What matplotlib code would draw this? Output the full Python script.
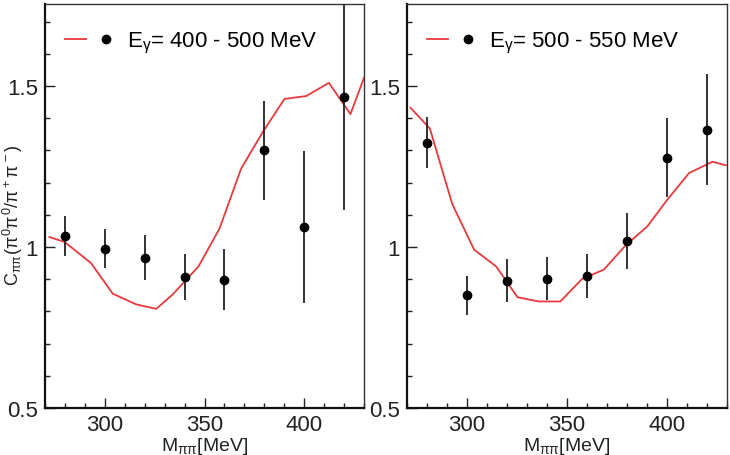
import matplotlib
matplotlib.use('Agg')
import matplotlib.pyplot as plt
from matplotlib.ticker import MultipleLocator, FixedLocator, FixedFormatter
from matplotlib.lines import Line2D
from matplotlib.legend_handler import HandlerTuple

plt.rcParams['font.family'] = ['Liberation Sans', 'DejaVu Sans']
plt.rcParams['mathtext.fontset'] = 'custom'
plt.rcParams['mathtext.rm'] = 'Liberation Sans'
plt.rcParams['mathtext.it'] = 'Liberation Sans'

# Datos: panel izquierdo (E_gamma = 400 - 500 MeV)
m_datos = [280, 300, 320, 340, 360, 380, 400, 420]
c_izq = [1.034, 0.995, 0.967, 0.907, 0.899, 1.300, 1.062, 1.465]
err_izq = [0.062, 0.061, 0.070, 0.072, 0.094, 0.154, 0.237, 0.350]
m_teo_izq = [272.2, 279.8, 293.1, 304.0, 315.7, 325.8, 334.1, 347.0,
             357.5, 368.4, 379.3, 390.1, 401.0, 412.4, 423.2, 430.0]
c_teo_izq = [1.031, 1.016, 0.950, 0.855, 0.822, 0.808, 0.853, 0.940,
             1.057, 1.244, 1.358, 1.460, 1.469, 1.510, 1.413, 1.526]

# Datos: panel derecho (E_gamma = 500 - 550 MeV)
c_der = [1.324, 0.850, 0.896, 0.901, 0.909, 1.018, 1.278, 1.365]
err_der = [0.080, 0.060, 0.067, 0.067, 0.068, 0.087, 0.124, 0.171]
m_teo_der = [271.9, 281.6, 292.8, 303.7, 314.7, 325.4, 336.0, 346.8,
             357.7, 368.6, 379.4, 390.3, 400.3, 411.2, 422.9, 429.6]
c_teo_der = [1.433, 1.368, 1.133, 0.992, 0.940, 0.844, 0.831, 0.831,
             0.901, 0.930, 1.005, 1.064, 1.147, 1.230, 1.265, 1.254]

etiquetas = ['E$_{\\gamma}$= 400 - 500 MeV', 'E$_{\\gamma}$= 500 - 550 MeV']

ROJO = '#e8393c'

fig = plt.figure(figsize=(7.3, 4.56), dpi=100)
ax1 = fig.add_axes([45 / 730, 47 / 456, 319 / 730, 404 / 456])
ax2 = fig.add_axes([406.7 / 730, 47 / 456, 320 / 730, 404 / 456])

paneles = [(ax1, c_izq, err_izq, m_teo_izq, c_teo_izq, etiquetas[0]),
           (ax2, c_der, err_der, m_teo_der, c_teo_der, etiquetas[1])]

for ax, c, err, mt, ct, etiqueta in paneles:
    linea, = ax.plot(mt, ct, color=ROJO, linewidth=1.3)
    ax.errorbar(m_datos, c, yerr=err, fmt='o', color='black', ecolor='#222222',
                elinewidth=1.3, markersize=6, capsize=0)
    ax.set_xlim(270, 430)
    ax.set_ylim(0.5, 1.755)
    ax.xaxis.set_major_locator(FixedLocator([300, 350, 400]))
    ax.xaxis.set_minor_locator(MultipleLocator(10))
    ax.yaxis.set_major_locator(FixedLocator([0.5, 1.0, 1.5]))
    ax.yaxis.set_major_formatter(FixedFormatter(['0.5', '1', '1.5']))
    ax.yaxis.set_minor_locator(MultipleLocator(0.1))
    ax.tick_params(which='both', direction='in', top=False, right=False,
                   labelsize=16, colors='#222222')
    ax.tick_params(which='major', length=7, width=1)
    ax.tick_params(which='minor', length=3.5, width=1)
    ax.tick_params(axis='x', pad=4)
    ax.tick_params(axis='y', pad=5)
    for lado in ['left', 'bottom']:
        ax.spines[lado].set_linewidth(1.6)
        ax.spines[lado].set_color('#111111')
    for lado in ['top', 'right']:
        ax.spines[lado].set_linewidth(1.0)
        ax.spines[lado].set_color('#333333')
    ax.set_xlabel('M$_{\\pi\\pi}$[MeV]', fontsize=14, labelpad=0, color='#222222')

    punto = Line2D([], [], marker='o', color='black', linestyle='none', markersize=6)
    ax.legend([(linea, punto)], [etiqueta],
              handler_map={tuple: HandlerTuple(ndivide=None, pad=0.43)},
              loc='upper left', frameon=False, fontsize=16,
              handlelength=2.32, handletextpad=0.47,
              borderpad=0, borderaxespad=0,
              bbox_to_anchor=(0.063, 0.935))

ax1.set_ylabel('C$_{\\pi\\pi}$($\\pi^0\\pi^0/\\pi^+\\pi^-$)', fontsize=13, color='#222222')
ax1.yaxis.set_label_coords(-0.064, 0.48)

fig.savefig('out.png', dpi=100)
